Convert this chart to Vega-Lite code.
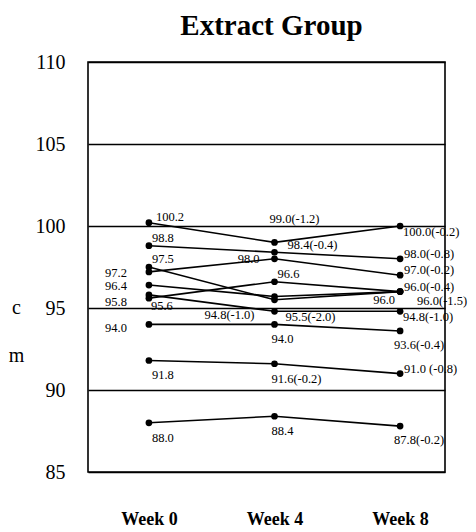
{
  "$schema": "https://vega.github.io/schema/vega-lite/v6.json",
  "width": 357,
  "height": 410,
  "autosize": {"type": "none"},
  "padding": {"left": 88, "top": 62, "right": 31, "bottom": 60},
  "background": "white",
  "title": {"text": "Extract Group", "font": "Liberation Serif", "fontSize": 29, "fontWeight": "bold", "color": "black", "offset": 11, "dx": 5},
  "config": {
    "view": {"stroke": "black", "strokeWidth": 1.6},
    "text": {"font": "Liberation Serif", "fontSize": 12.5, "color": "black", "baseline": "middle"}
  },
  "datasets": {
    "series": [
      {"subject": "S1", "week": 0, "value": 100.2}, {"subject": "S1", "week": 4, "value": 99.0}, {"subject": "S1", "week": 8, "value": 100.0},
      {"subject": "S2", "week": 0, "value": 98.8}, {"subject": "S2", "week": 4, "value": 98.4}, {"subject": "S2", "week": 8, "value": 98.0},
      {"subject": "S3", "week": 0, "value": 97.2}, {"subject": "S3", "week": 4, "value": 98.0}, {"subject": "S3", "week": 8, "value": 97.0},
      {"subject": "S4", "week": 0, "value": 97.5}, {"subject": "S4", "week": 4, "value": 95.5}, {"subject": "S4", "week": 8, "value": 96.0},
      {"subject": "S5", "week": 0, "value": 96.4}, {"subject": "S5", "week": 4, "value": 95.7}, {"subject": "S5", "week": 8, "value": 96.0},
      {"subject": "S6", "week": 0, "value": 95.6}, {"subject": "S6", "week": 4, "value": 96.6}, {"subject": "S6", "week": 8, "value": 96.0},
      {"subject": "S7", "week": 0, "value": 95.8}, {"subject": "S7", "week": 4, "value": 94.8}, {"subject": "S7", "week": 8, "value": 94.8},
      {"subject": "S8", "week": 0, "value": 94.0}, {"subject": "S8", "week": 4, "value": 94.0}, {"subject": "S8", "week": 8, "value": 93.6},
      {"subject": "S9", "week": 0, "value": 91.8}, {"subject": "S9", "week": 4, "value": 91.6}, {"subject": "S9", "week": 8, "value": 91.0},
      {"subject": "S10", "week": 0, "value": 88.0}, {"subject": "S10", "week": 4, "value": 88.4}, {"subject": "S10", "week": 8, "value": 87.8}
    ],
    "lblA": [{"week": 0, "value": 100.2, "label": "100.2"}],
    "lblB": [
      {"week": 0, "value": 98.8, "label": "98.8"},
      {"week": 0, "value": 97.5, "label": "97.5"},
      {"week": 4, "value": 96.6, "label": "96.6"}
    ],
    "lblC1": [
      {"week": 0, "value": 97.2, "label": "97.2"},
      {"week": 0, "value": 96.4, "label": "96.4"}
    ],
    "lblC2": [{"week": 0, "value": 95.8, "label": "95.8"}],
    "lblC3": [{"week": 0, "value": 94.0, "label": "94.0"}],
    "lblD": [{"week": 0, "value": 95.6, "label": "95.6"}],
    "lblE1": [
      {"week": 0, "value": 91.8, "label": "91.8"},
      {"week": 0, "value": 88.0, "label": "88.0"}
    ],
    "lblE2": [
      {"week": 4, "value": 94.0, "label": "94.0"},
      {"week": 4, "value": 91.6, "label": "91.6(-0.2)"},
      {"week": 4, "value": 88.4, "label": "88.4"}
    ],
    "lblE3": [
      {"week": 8, "value": 93.6, "label": "93.6(-0.4)"},
      {"week": 8, "value": 87.8, "label": "87.8(-0.2)"}
    ],
    "lblF": [{"week": 4, "value": 99.0, "label": "99.0(-1.2)"}],
    "lblG": [{"week": 4, "value": 98.4, "label": "98.4(-0.4)"}],
    "lblH": [{"week": 4, "value": 98.0, "label": "98.0"}],
    "lblI": [{"week": 4, "value": 94.8, "label": "94.8(-1.0)"}],
    "lblJ": [{"week": 4, "value": 95.5, "label": "95.5(-2.0)"}],
    "lblK": [
      {"week": 8, "value": 100.0, "label": "100.0(-0.2)"},
      {"week": 8, "value": 94.8, "label": "94.8(-1.0)"}
    ],
    "lblL": [
      {"week": 8, "value": 98.0, "label": "98.0(-0.8)"},
      {"week": 8, "value": 97.0, "label": "97.0(-0.2)"},
      {"week": 8, "value": 96.0, "label": "96.0(-0.4)"},
      {"week": 8, "value": 91.0, "label": "91.0 (-0.8)"}
    ],
    "lblM": [{"week": 8, "value": 96.0, "label": "96.0(-1.5)"}],
    "lblN": [{"week": 8, "value": 96.0, "label": "96.0"}]
  },
  "encoding": {
    "x": {
      "field": "week", "type": "quantitative",
      "scale": {"domain": [-1.94, 9.43], "nice": false, "zero": false},
      "axis": {
        "values": [0, 4, 8], "labelExpr": "'Week ' + datum.value",
        "grid": false, "ticks": false, "tickSize": 0, "domain": false,
        "labelFont": "Liberation Serif", "labelFontSize": 18, "labelFontWeight": "bold",
        "labelColor": "black", "labelPadding": 47, "labelBaseline": "middle", "title": null
      }
    },
    "y": {
      "field": "value", "type": "quantitative",
      "scale": {"domain": [85, 110], "nice": false, "zero": false},
      "axis": {
        "values": [85, 90, 95, 100, 105, 110],
        "grid": true, "gridColor": "black", "gridWidth": 1.4, "gridOpacity": 1,
        "ticks": false, "tickSize": 0, "domain": false,
        "labelFont": "Liberation Serif", "labelFontSize": 20, "labelColor": "black", "labelPadding": 23,
        "title": ["c", "m"], "titleAngle": 0, "titleFont": "Liberation Serif", "titleFontSize": 20,
        "titleFontWeight": "normal", "titleColor": "black", "titleX": -72, "titleY": 245,
        "titleAlign": "center", "titleBaseline": "middle", "titleLineHeight": 48
      }
    }
  },
  "layer": [
    {"data": {"name": "series"}, "mark": {"type": "line", "color": "black", "strokeWidth": 1.6}, "encoding": {"detail": {"field": "subject"}}},
    {"data": {"name": "series"}, "mark": {"type": "circle", "color": "black", "size": 45, "opacity": 1}},
    {"data": {"name": "lblA"}, "mark": {"type": "text", "align": "left", "dx": 7, "dy": -6}, "encoding": {"text": {"field": "label"}}},
    {"data": {"name": "lblB"}, "mark": {"type": "text", "align": "left", "dx": 3, "dy": -8}, "encoding": {"text": {"field": "label"}}},
    {"data": {"name": "lblC1"}, "mark": {"type": "text", "align": "right", "dx": -22, "dy": 1}, "encoding": {"text": {"field": "label"}}},
    {"data": {"name": "lblC2"}, "mark": {"type": "text", "align": "right", "dx": -22, "dy": 7}, "encoding": {"text": {"field": "label"}}},
    {"data": {"name": "lblC3"}, "mark": {"type": "text", "align": "right", "dx": -22, "dy": 4}, "encoding": {"text": {"field": "label"}}},
    {"data": {"name": "lblD"}, "mark": {"type": "text", "align": "left", "dx": 2, "dy": 8}, "encoding": {"text": {"field": "label"}}},
    {"data": {"name": "lblE1"}, "mark": {"type": "text", "align": "left", "dx": 3, "dy": 15}, "encoding": {"text": {"field": "label"}}},
    {"data": {"name": "lblE2"}, "mark": {"type": "text", "align": "left", "dx": -3, "dy": 15}, "encoding": {"text": {"field": "label"}}},
    {"data": {"name": "lblE3"}, "mark": {"type": "text", "align": "left", "dx": -6, "dy": 14}, "encoding": {"text": {"field": "label"}}},
    {"data": {"name": "lblF"}, "mark": {"type": "text", "align": "left", "dx": -5, "dy": -23}, "encoding": {"text": {"field": "label"}}},
    {"data": {"name": "lblG"}, "mark": {"type": "text", "align": "left", "dx": 13, "dy": -7}, "encoding": {"text": {"field": "label"}}},
    {"data": {"name": "lblH"}, "mark": {"type": "text", "align": "right", "dx": -15, "dy": 0}, "encoding": {"text": {"field": "label"}}},
    {"data": {"name": "lblI"}, "mark": {"type": "text", "align": "right", "dx": -20, "dy": 4}, "encoding": {"text": {"field": "label"}}},
    {"data": {"name": "lblJ"}, "mark": {"type": "text", "align": "left", "dx": 11, "dy": 17}, "encoding": {"text": {"field": "label"}}},
    {"data": {"name": "lblK"}, "mark": {"type": "text", "align": "left", "dx": 3, "dy": 6}, "encoding": {"text": {"field": "label"}}},
    {"data": {"name": "lblL"}, "mark": {"type": "text", "align": "left", "dx": 4, "dy": -5}, "encoding": {"text": {"field": "label"}}},
    {"data": {"name": "lblM"}, "mark": {"type": "text", "align": "left", "dx": 17, "dy": 9}, "encoding": {"text": {"field": "label"}}},
    {"data": {"name": "lblN"}, "mark": {"type": "text", "align": "right", "dx": -5, "dy": 8}, "encoding": {"text": {"field": "label"}}}
  ]
}
